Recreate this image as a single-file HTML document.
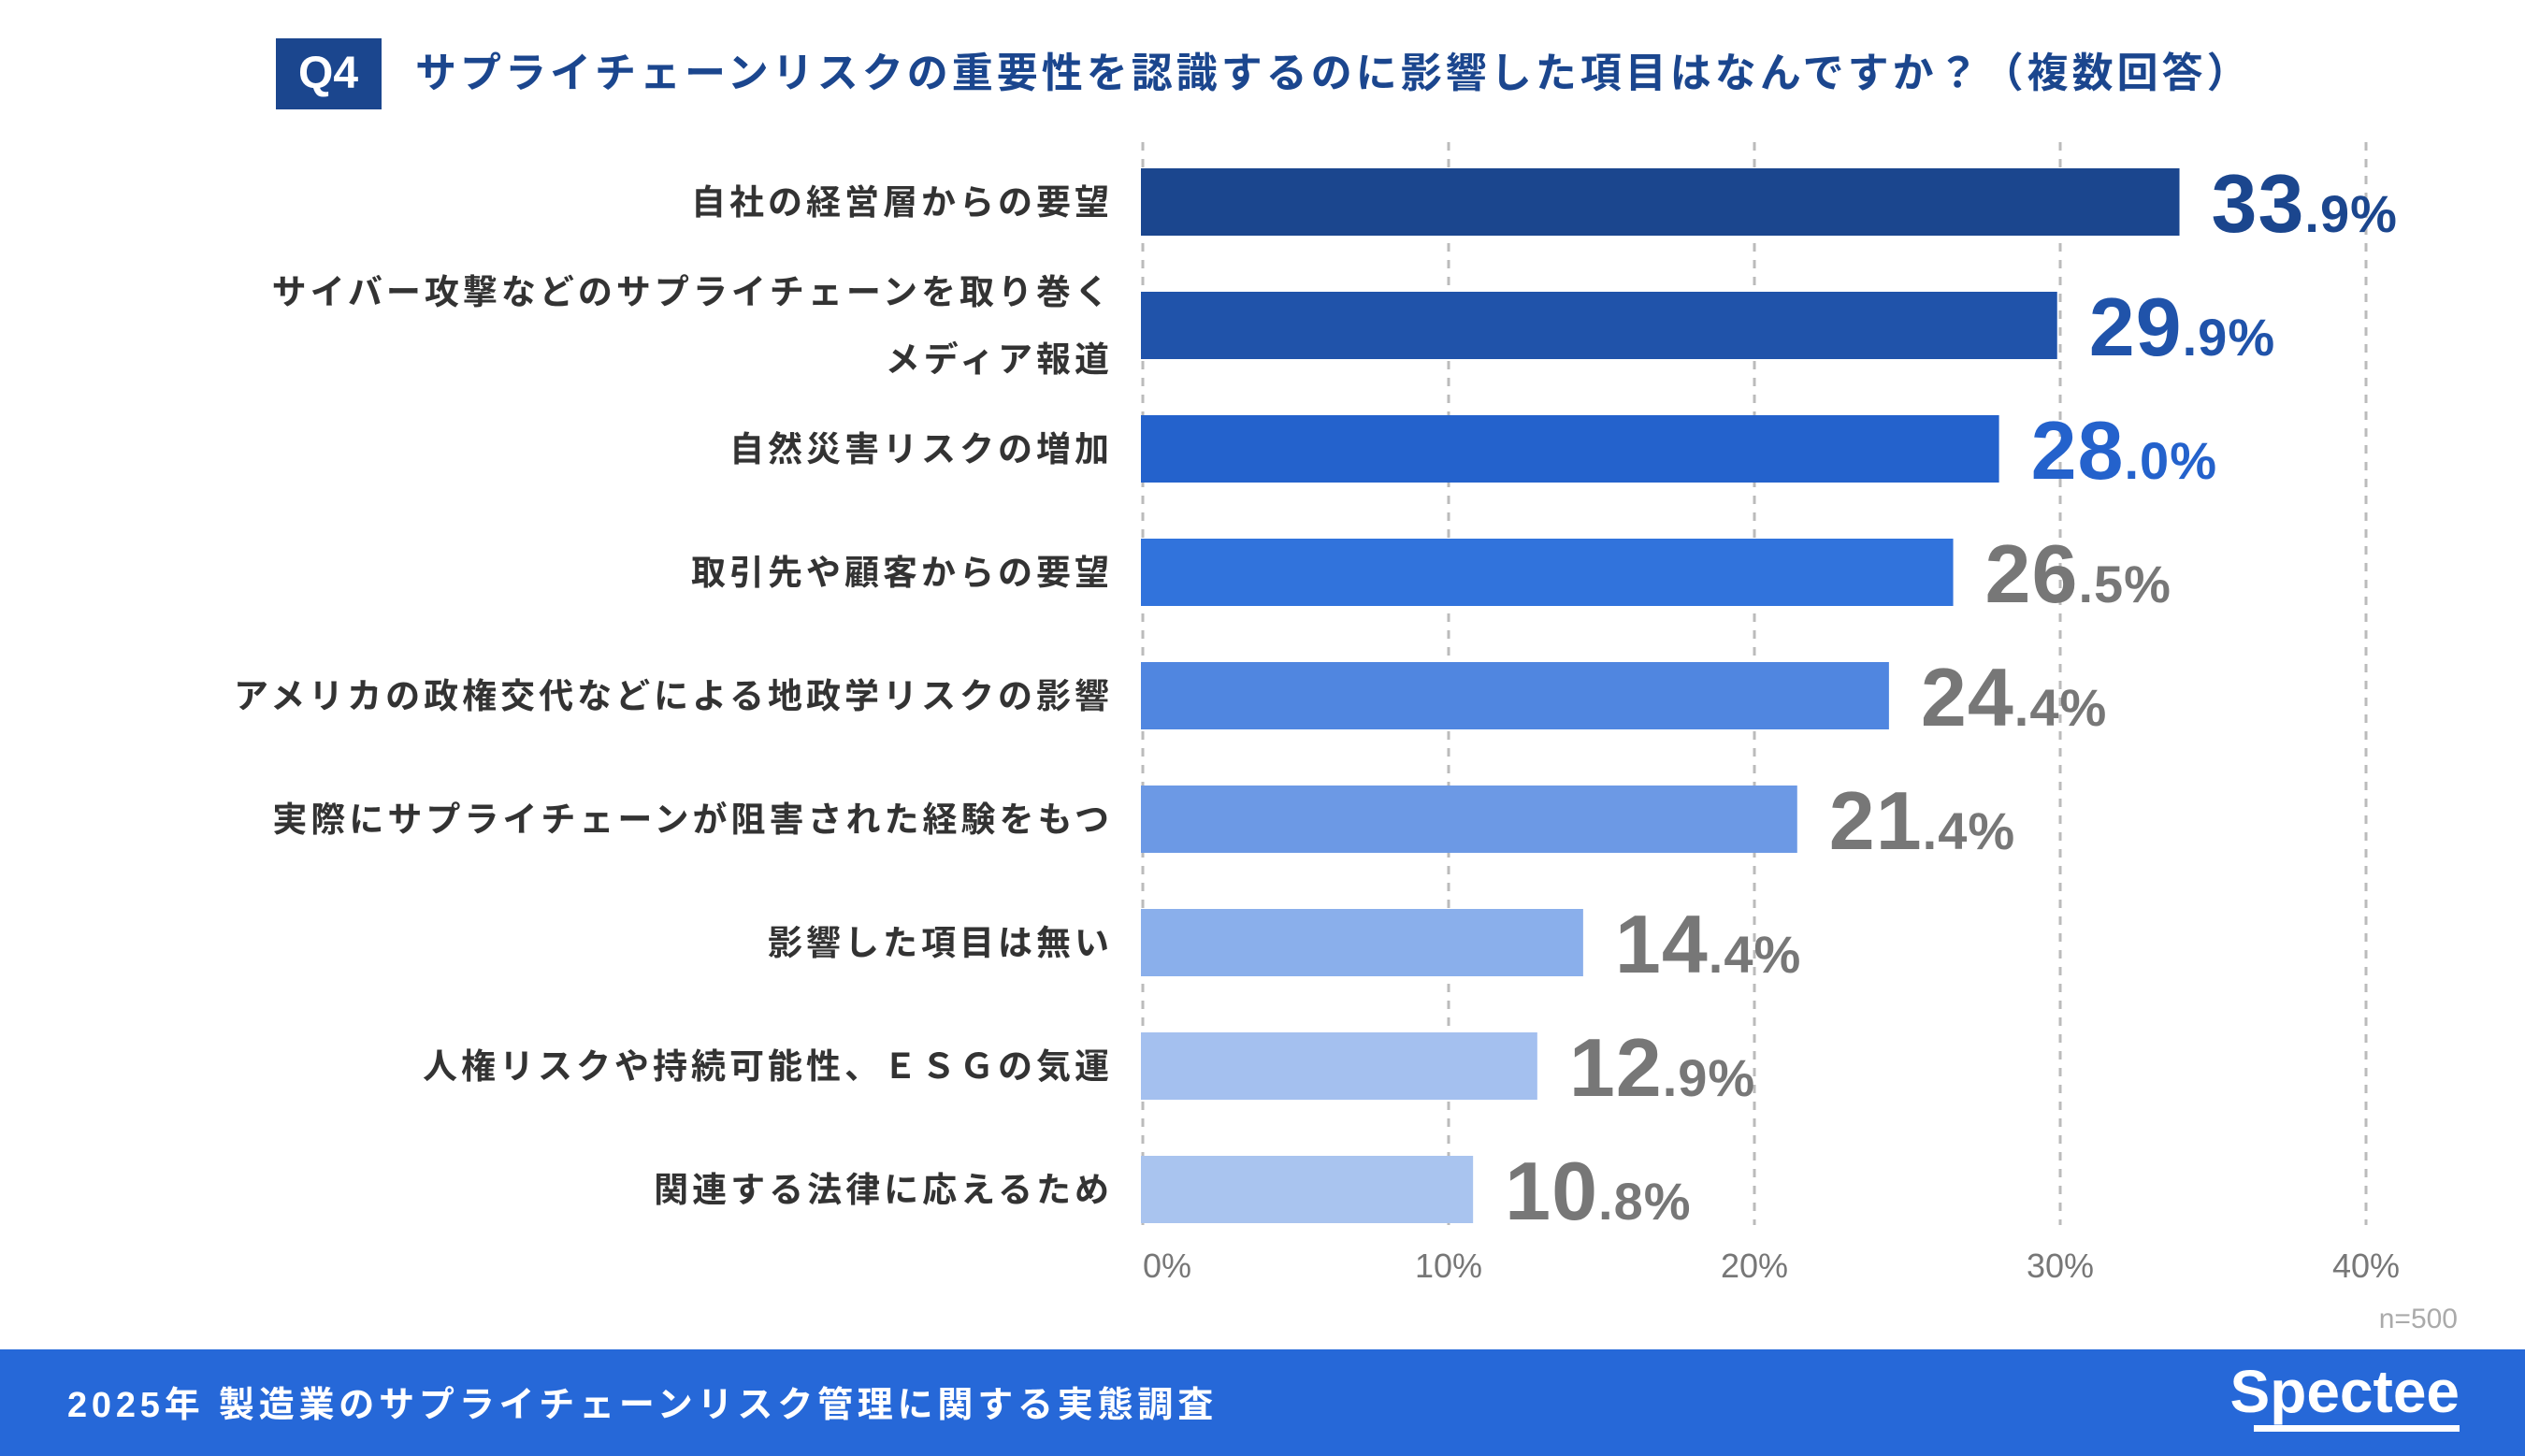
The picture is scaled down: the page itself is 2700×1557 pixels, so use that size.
<!DOCTYPE html>
<html><head><meta charset="utf-8"><style>
html,body{margin:0;padding:0;background:#fff;}
svg{display:block;}
text{font-family:"Liberation Sans","Noto Sans CJK JP",sans-serif;}
</style></head><body>
<svg id="chart" width="2700" height="1557" viewBox="0 0 2700 1557" xmlns="http://www.w3.org/2000/svg">
<rect x="295" y="41" width="113" height="76" fill="#1b468e"/>
<text x="351" y="94" font-size="48" font-weight="bold" fill="#fff" text-anchor="middle">Q4</text>
<text x="444" y="93" font-size="44" font-weight="bold" fill="#1b468e" letter-spacing="4">サプライチェーンリスクの重要性を認識するのに影響した項目はなんですか？（複数回答）</text>
<g id="grid"></g>
<g id="bars"></g>
<g id="ticks"></g>
<text x="2628" y="1420" font-size="30" fill="#aaa" text-anchor="end">n=500</text>
<rect x="0" y="1443" width="2700" height="114" fill="#2668d8"/>
<text x="72" y="1515" font-size="38" font-weight="bold" fill="#fff" letter-spacing="4.8">2025年 製造業のサプライチェーンリスク管理に関する実態調査</text>
<text x="2630" y="1510" font-size="64" font-weight="bold" fill="#fff" text-anchor="end">Spectee</text>
<rect x="2410" y="1524" width="220" height="7" fill="#fff"/>
</svg>
<script>
const categories = ["自社の経営層からの要望","サイバー攻撃などのサプライチェーンを取り巻く|メディア報道","自然災害リスクの増加","取引先や顧客からの要望","アメリカの政権交代などによる地政学リスクの影響","実際にサプライチェーンが阻害された経験をもつ","影響した項目は無い","人権リスクや持続可能性、ＥＳＧの気運","関連する法律に応えるため"];
const values = [33.9,29.9,28.0,26.5,24.4,21.4,14.4,12.9,10.8];
const tickValues = [0,10,20,30,40];
const tickLabels = ["0%","10%","20%","30%","40%"];
const barColors = ["#1b468e","#2053aa","#2462cc","#3173dc","#5086e0","#6c99e5","#8aafeb","#a4c0ef","#a9c4ef"];
const valueColors = ["#1b468e","#2053aa","#2462cc","#777","#777","#777","#777","#777","#777"];
const NS="http://www.w3.org/2000/svg";
const x0=1222, pxPer=32.7, top0=180, step=132, bh=72;
function xs(v){return x0+v*pxPer;}
function ys(i){return top0+i*step;}
function mk(t,a,p){const e=document.createElementNS(NS,t);for(const k in a)e.setAttribute(k,a[k]);p.appendChild(e);return e;}
const grid=document.getElementById('grid'),bars=document.getElementById('bars'),ticks=document.getElementById('ticks');
tickValues.forEach((v,i)=>{
  const l=mk('line',{x1:xs(v),x2:xs(v),y1:152,y2:1310,stroke:'#bbb','stroke-width':3,'stroke-dasharray':'9 9'},grid);
  
  
  const t=mk('text',{x:xs(v),y:1366,'font-size':36,fill:'#777','text-anchor':i===0?'start':'middle'},ticks);
  t.textContent=tickLabels[i];
  
  
});
values.forEach((v,i)=>{
  const y=ys(i);
  const r=mk('rect',{x:x0-2,y:y,width:xs(v)-x0+2,height:bh,fill:barColors[i]},bars);
  
  
  const lines=categories[i].split('|');
  lines.forEach((ln,j)=>{
    const ly = lines.length===1 ? y+bh/2+13 : y+bh/2+13+(j===0?-36:36);
    const t=mk('text',{x:1190,y:ly,'font-size':37,'font-weight':'bold',fill:'#333','text-anchor':'end','letter-spacing':4},bars);
    t.textContent=ln;
    
    
  });
  const s=v.toFixed(1).split('.');
  const vt=mk('text',{x:xs(v)+34,y:y+bh/2+32,fill:valueColors[i],'font-weight':'bold','letter-spacing':1},bars);
  
  
  const a=mk('tspan',{'font-size':88},vt);a.textContent=s[0];
  const b=mk('tspan',{'font-size':56},vt);b.textContent='.'+s[1]+'%';
});
</script>
</body></html>
